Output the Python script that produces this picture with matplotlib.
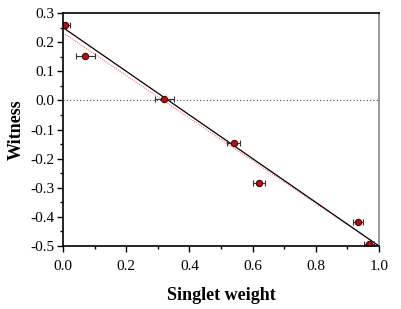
import matplotlib
matplotlib.use("Agg")
import matplotlib.pyplot as plt
from matplotlib.ticker import MultipleLocator
import numpy as np

plt.rcParams['font.family'] = ['Liberation Serif', 'DejaVu Serif']

singlet_weight = [0.005, 0.07, 0.32, 0.54, 0.62, 0.933, 0.968]
witness = [0.259, 0.152, 0.005, -0.145, -0.283, -0.417, -0.494]
x_err = [0.018, 0.03, 0.03, 0.02, 0.02, 0.015, 0.017]

theory_x = [0.0, 1.0]
theory_y = [0.25, -0.5]
fit_x = [0.0, 1.0]
fit_y = [0.232, -0.5]

fig = plt.figure(figsize=(4.02, 3.09), dpi=100)
ax = fig.add_axes([63/402, 1-246/309, (379-63)/402, (246-13)/309])

ax.axhline(0, color='#444444', lw=0.8, ls=(0, (1, 2)))
ax.plot(fit_x, fit_y, color='#ff5555', lw=0.7, ls=(0, (1, 1.2)))
ax.plot(theory_x, theory_y, color='black', lw=0.9)
ax.errorbar(singlet_weight, witness, xerr=x_err, fmt='o', ms=4.5,
            mfc='#b81010', mec='#4a0000', mew=0.8, ecolor='#333333',
            elinewidth=0.8, capsize=2.5, capthick=0.8)

ax.set_xlim(0, 1.0)
ax.set_ylim(-0.5, 0.3)
ax.xaxis.set_major_locator(MultipleLocator(0.2))
ax.xaxis.set_minor_locator(MultipleLocator(0.1))
ax.yaxis.set_major_locator(MultipleLocator(0.1))
ax.yaxis.set_minor_locator(MultipleLocator(0.05))
ax.set_xticks(np.arange(0, 1.01, 0.2))
ax.set_xticklabels(['0.0', '0.2', '0.4', '0.6', '0.8', '1.0'])
ax.set_yticks(np.arange(-0.5, 0.31, 0.1))
ax.set_yticklabels(['-0.5', '-0.4', '-0.3', '-0.2', '-0.1', '0.0', '0.1', '0.2', '0.3'])
ax.tick_params(which='major', direction='out', length=4, width=1, labelsize=11)
ax.tick_params(which='minor', direction='out', length=2.5, width=1)
ax.tick_params(axis='x', pad=6)
ax.tick_params(axis='y', pad=2)
ax.spines['top'].set_linewidth(1.2)
ax.spines['left'].set_linewidth(1.2)
ax.spines['bottom'].set_linewidth(1.2)
ax.spines['right'].set_color('#999999')
ax.spines['right'].set_linewidth(1.4)

ax.set_xlabel('Singlet weight', fontsize=13, fontweight='bold', labelpad=10)
ax.set_ylabel('Witness', fontsize=13, fontweight='bold', labelpad=4)

fig.savefig('out.png', dpi=100)
